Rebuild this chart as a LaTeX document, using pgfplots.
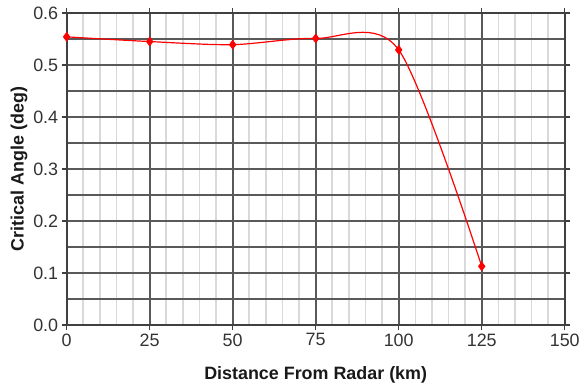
\documentclass[border=0pt]{standalone}
\usepackage{pgfplots}
\pgfplotsset{compat=1.18}
\usepackage{fontspec}
\setmainfont{Liberation Sans}
\begin{document}
\begin{tikzpicture}
\begin{axis}[
  scale only axis,
  width=501pt, height=314pt,
  xmin=0, xmax=150, ymin=0, ymax=0.6,
  xtick={0,25,50,75,100,125,150},
  ytick={0,0.1,0.2,0.3,0.4,0.5,0.6},
  yticklabels={0.0,0.1,0.2,0.3,0.4,0.5,0.6},
  /pgf/number format/assume math mode=true,
  minor xtick={5,10,15,20,30,35,40,45,55,60,65,70,80,85,90,95,105,110,115,120,130,135,140,145},
  minor ytick={0.05,0.15,0.25,0.35,0.45,0.55},
  grid=both,
  major grid style={draw=black!65, line width=1.8pt},
  minor x grid style={draw=black!15, line width=1.6pt},
  minor y grid style={draw=black!65, line width=1.8pt},
  axis line style={draw=black!75, line width=1.8pt},
  tick align=outside,
  major tick length=5pt,
  minor tick length=0pt,
  tick style={draw=black!75, line width=1.4pt},
  ticklabel style={font=\fontsize{18}{20}\selectfont, text=black!80},
  xlabel={\textbf{Distance From Radar (km)}},
  ylabel={\textbf{Critical Angle (deg)}},
  label style={font=\fontsize{18}{21}\selectfont, text=black!90},
  xlabel style={yshift=-13pt},
  ylabel style={yshift=-1pt},
]
\addplot[red, line width=1.2pt, smooth, mark=diamond*, mark size=4pt, mark options={fill=red, draw=red}]
coordinates {(0,0.554) (25,0.545) (50,0.539) (75,0.551) (100,0.529) (125,0.113)};
\end{axis}
\path ([xshift=-67pt,yshift=-59pt]current axis.south west);
\path ([xshift=15pt,yshift=13pt]current axis.north east);
\end{tikzpicture}
\end{document}
